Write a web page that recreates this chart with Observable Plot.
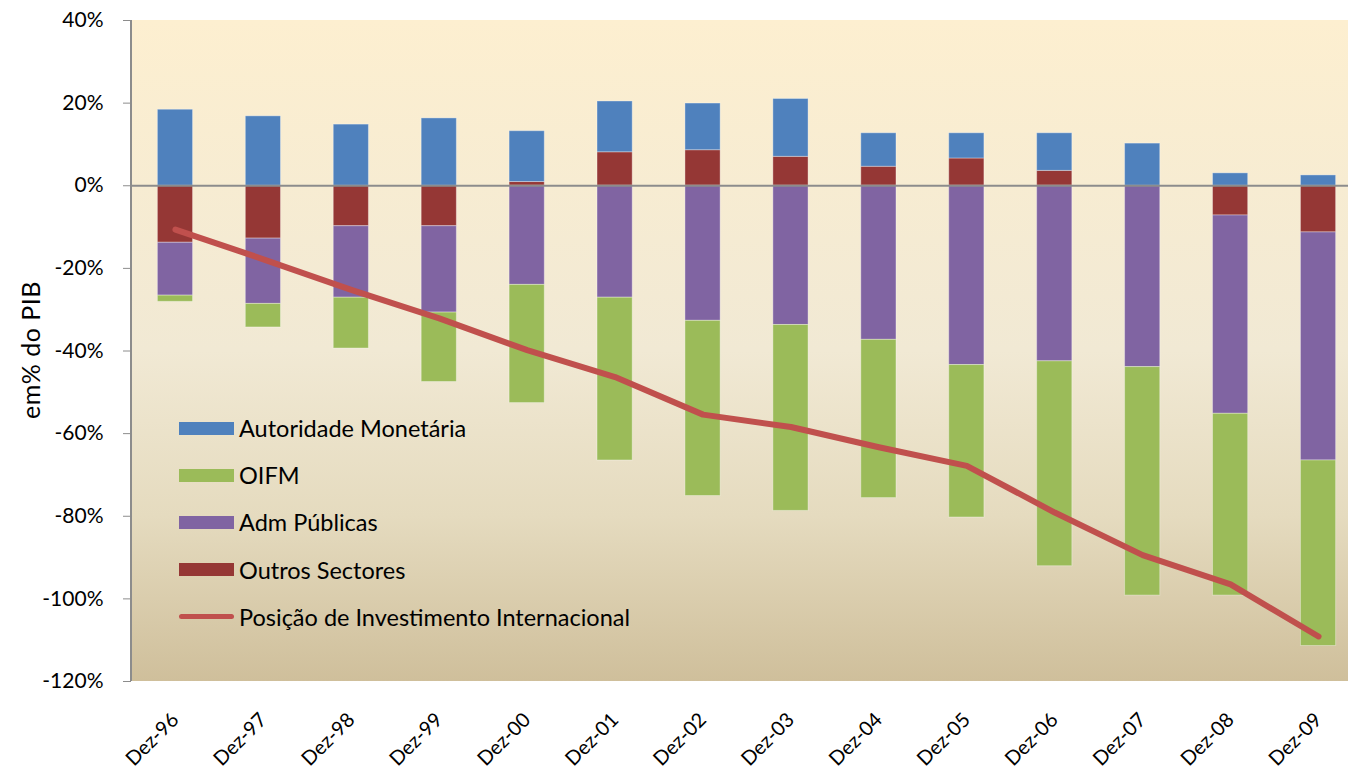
<!DOCTYPE html>
<html><head><meta charset="utf-8">
<script src="https://cdn.jsdelivr.net/npm/d3@7"></script>
<script src="https://cdn.jsdelivr.net/npm/@observablehq/plot@0.6"></script>
<style>
html,body{margin:0;padding:0;background:#fff;overflow:hidden;}
#wrap{position:relative;width:1348px;height:772px;font-family:Lato,"Open Sans",sans-serif;color:#000;}
#wrap svg{position:absolute;left:0;top:0;overflow:hidden;}
.ylabel{position:absolute;left:30px;top:350px;transform:translate(-50%,-50%) rotate(-90deg);font-size:25px;letter-spacing:0.5px;white-space:nowrap;}
.legend{position:absolute;left:179px;top:413px;}
.legend .row{position:absolute;left:0;height:30px;display:flex;align-items:center;white-space:nowrap;font-size:23.5px;}
.legend .sw{width:55px;height:13px;margin-right:5px;}
.legend .ln{width:55px;height:5px;border-radius:3px;margin-right:5px;}
</style></head><body><div id="wrap"></div>
<script>
const periods = ["Dez-96","Dez-97","Dez-98","Dez-99","Dez-00","Dez-01","Dez-02","Dez-03","Dez-04","Dez-05","Dez-06","Dez-07","Dez-08","Dez-09"];
const autoridadeMonetaria = [18.4,16.8,14.8,16.3,12.3,12.3,11.3,14.0,8.1,6.1,9.1,10.2,3.0,2.5];
const oifm = [-1.5,-5.7,-12.3,-16.8,-28.6,-39.4,-42.4,-45.0,-38.3,-36.9,-49.6,-55.3,-44.0,-44.9];
const admPublicas = [-12.8,-15.8,-17.3,-20.9,-24.0,-27.1,-32.7,-33.7,-37.3,-43.4,-42.5,-43.9,-48.0,-55.2];
const outrosSectores = [-13.8,-12.8,-9.8,-9.8,0.9,8.1,8.6,7.0,4.6,6.6,3.6,0,-7.2,-11.3];
const pii = [-10.6,-17.8,-25.2,-32.1,-39.8,-46.3,-55.4,-58.4,-63.3,-67.8,-79.1,-89.4,-96.5,-109.1];
const seriesNames = ["Autoridade Monetária","OIFM","Adm Públicas","Outros Sectores"];
const seriesColors = ["#4F81BD","#9BBB59","#8064A2","#953735"];
const lineName = "Posição de Investimento Internacional";
const lineColor = "#C0504D";
const yTicks = [-120,-100,-80,-60,-40,-20,0,20,40];
const yLabel = "em% do PIB";

const seriesValues = {
  "Autoridade Monetária": autoridadeMonetaria,
  "OIFM": oifm,
  "Adm Públicas": admPublicas,
  "Outros Sectores": outrosSectores
};
const stackOrder = ["Outros Sectores","Adm Públicas","OIFM","Autoridade Monetária"];
const rows = [];
periods.forEach((p, i) => {
  stackOrder.forEach(s => rows.push({period: p, series: s, value: seriesValues[s][i]}));
});
const lineData = periods.map((p, i) => ({period: p, value: pii[i]}));

const W = 1348, H = 772;
const mL = 131, mT = 20, mB = 91;

function background(index, scales, values, dims) {
  const ns = "http://www.w3.org/2000/svg";
  const g = document.createElementNS(ns, "g");
  const defs = document.createElementNS(ns, "defs");
  const grad = document.createElementNS(ns, "linearGradient");
  grad.setAttribute("id", "bggrad");
  grad.setAttribute("x1", "0"); grad.setAttribute("y1", "0");
  grad.setAttribute("x2", "0"); grad.setAttribute("y2", "1");
  [["0", "#FDEFD0"], ["0.5", "#F1E9D4"], ["0.75", "#E5DBBF"], ["1", "#CFBF9B"]].forEach(([o, c]) => {
    const st = document.createElementNS(ns, "stop");
    st.setAttribute("offset", o); st.setAttribute("stop-color", c);
    grad.appendChild(st);
  });
  defs.appendChild(grad);
  g.appendChild(defs);
  const r = document.createElementNS(ns, "rect");
  r.setAttribute("x", dims.marginLeft);
  r.setAttribute("y", dims.marginTop);
  r.setAttribute("width", dims.width - dims.marginLeft);
  r.setAttribute("height", dims.height - dims.marginTop - dims.marginBottom);
  r.setAttribute("fill", "url(#bggrad)");
  g.appendChild(r);
  return g;
}
function yAxisLine(index, scales, values, dims) {
  const ns = "http://www.w3.org/2000/svg";
  const l = document.createElementNS(ns, "line");
  l.setAttribute("x1", dims.marginLeft); l.setAttribute("x2", dims.marginLeft);
  l.setAttribute("y1", dims.marginTop); l.setAttribute("y2", dims.height - dims.marginBottom);
  l.setAttribute("stroke", "#8c8c8c"); l.setAttribute("stroke-width", 2);
  return l;
}

const chart = Plot.plot({
  width: W, height: H,
  marginLeft: mL, marginRight: 0, marginTop: mT, marginBottom: mB,
  style: {fontFamily: "Lato, 'Open Sans', sans-serif", background: "transparent", color: "#000"},
  x: {type: "band", domain: periods, range: [mL, 1362], paddingInner: 0.6, paddingOuter: 0.3, round: false, label: null},
  y: {domain: [-120, 40], label: null},
  color: {domain: seriesNames, range: seriesColors},
  marks: [
    background,
    Plot.barY(rows, {x: "period", y: "value", fill: "series", z: "series", order: stackOrder,
      stroke: "#ffffff", strokeOpacity: 0.35, strokeWidth: 1}),
    Plot.ruleY([0], {stroke: "#8c8c8c", strokeWidth: 2}),
    Plot.line(lineData, {x: "period", y: "value", stroke: lineColor, strokeWidth: 6,
      strokeLinecap: "round", strokeLinejoin: "round"}),
    yAxisLine,
    Plot.axisY({ticks: yTicks, tickFormat: d => d + "%", tickSize: 8, tickPadding: 20,
      fontSize: 21, stroke: "#8c8c8c", strokeOpacity: 1, label: null}),
    Plot.axisX({tickRotate: -45, tickSize: 0, tickPadding: 35, fontSize: 20, label: null, textAnchor: "end"})
  ]
});

const wrap = document.getElementById("wrap");
wrap.appendChild(chart);

const yl = document.createElement("div");
yl.className = "ylabel"; yl.textContent = yLabel;
wrap.appendChild(yl);

const legend = document.createElement("div");
legend.className = "legend";
const rowTops = [0, 47.2, 94.4, 141.6, 188.8];
seriesNames.forEach((s, i) => {
  const row = document.createElement("div");
  row.className = "row"; row.style.top = rowTops[i] + "px";
  const sw = document.createElement("div");
  sw.className = "sw"; sw.style.background = seriesColors[i];
  const t = document.createElement("span"); t.textContent = s;
  row.appendChild(sw); row.appendChild(t);
  legend.appendChild(row);
});
{
  const row = document.createElement("div");
  row.className = "row"; row.style.top = rowTops[4] + "px";
  const ln = document.createElement("div");
  ln.className = "ln"; ln.style.background = lineColor;
  const t = document.createElement("span"); t.textContent = lineName;
  row.appendChild(ln); row.appendChild(t);
  legend.appendChild(row);
}
wrap.appendChild(legend);
</script>
</body></html>
